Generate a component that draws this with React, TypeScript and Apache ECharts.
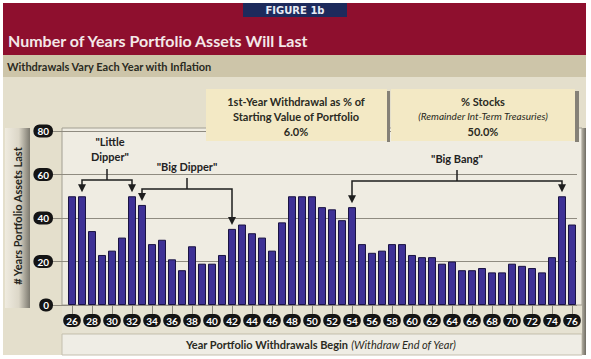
import React, { useEffect, useRef } from 'react';
import * as echarts from 'echarts';

const years = ['26','27','28','29','30','31','32','33','34','35','36','37','38','39','40','41','42','43','44','45','46','47','48','49','50','51','52','53','54','55','56','57','58','59','60','61','62','63','64','65','66','67','68','69','70','71','72','73','74','75','76'];
const yearsAssetsLast = [50,50,34,23,25,31,50,46,28,30,21,16,27,19,19,23,35,37,33,31,25,38,50,50,50,45,44,39,45,28,24,25,28,28,23,22,22,19,20,16,16,17,15,15,19,18,17,15,22,50,37];
const yMin = 0;
const yMax = 80;
const yStep = 20;

const titleText = 'Number of Years Portfolio Assets Will Last';
const subtitleText = 'Withdrawals Vary Each Year with Inflation';
const figureText = 'FIGURE 1b';
const box1Lines = ['1st-Year Withdrawal as % of', 'Starting Value of Portfolio', '6.0%'];
const box2Lines = ['% Stocks', '(Remainder Int-Term Treasuries)', '50.0%'];
const yAxisTitle = '# Years Portfolio Assets Last';
const xAxisTitleMain = 'Year Portfolio Withdrawals Begin ';
const xAxisTitleNote = '(Withdraw End of Year)';

const annotationLabels = [['"Little', 'Dipper"'], ['"Big Dipper"'], ['"Big Bang"']];
const annotationFrom = ['27', '33', '54'];
const annotationTo = ['32', '42', '75'];

const FONT = 'Lato, "Open Sans", sans-serif';

export default function App() {
  const ref = useRef<HTMLDivElement>(null);
  useEffect(() => {
    if (!ref.current) return;
    const chart = echarts.init(ref.current, null, { renderer: 'svg' });
    const pill = {
      color: '#ffffff',
      fontWeight: 'bold' as const,
      fontSize: 10,
      fontFamily: FONT,
      backgroundColor: '#141414',
      borderRadius: 6,
    };
    chart.setOption({
      animation: false,
      backgroundColor: '#ffffff',
      grid: { left: 67, right: 14, top: 131, bottom: 54, containLabel: false },
      xAxis: {
        type: 'category',
        data: years,
        axisLine: { show: false },
        axisTick: { show: true, interval: 1, alignWithLabel: true, length: 9, lineStyle: { color: '#8e8a7e' } },
        axisLabel: { ...pill, interval: 1, margin: 9, padding: [2, 3, 1, 3] },
        splitLine: { show: false },
      },
      yAxis: {
        type: 'value',
        min: yMin,
        max: yMax,
        interval: yStep,
        axisLine: { show: false },
        axisTick: { show: true, length: 14, lineStyle: { color: '#8e8a7e' } },
        axisLabel: { ...pill, margin: 14, padding: [2, 4, 1, 4] },
        splitLine: { show: true, lineStyle: { color: '#8f8b80', width: 1 } },
      },
      series: [
        {
          type: 'bar',
          data: yearsAssetsLast,
          barWidth: 8,
          itemStyle: { color: '#3e3196', borderColor: '#1a1343', borderWidth: 1 },
          z: 3,
        },
      ],
    });

    const px = (cat: string, v: number) =>
      chart.convertToPixel({ gridIndex: 0 }, [years.indexOf(cat), v]) as number[];

    const levels = [57.5, 53.3, 57];
    const ann: any[] = [];
    annotationLabels.forEach((lines, k) => {
      const from = annotationFrom[k];
      const to = annotationTo[k];
      const [x1, yBr] = px(from, levels[k]);
      const [x2] = px(to, levels[k]);
      const top1 = px(from, yearsAssetsLast[years.indexOf(from)])[1] - 4;
      const top2 = px(to, yearsAssetsLast[years.indexOf(to)])[1] - 4;
      const mx = (x1 + x2) / 2;
      const stemTop = yBr - 11;
      const ls = { stroke: '#1e1e1e', lineWidth: 1.5 };
      ann.push({ type: 'polyline', z: 20, shape: { points: [[x1, top1 - 6], [x1, yBr], [x2, yBr], [x2, top2 - 6]] }, style: { ...ls, fill: null } });
      ann.push({ type: 'line', z: 20, shape: { x1: mx, y1: yBr, x2: mx, y2: stemTop }, style: ls });
      [[x1, top1], [x2, top2]].forEach(([ax, ay]) => {
        ann.push({ type: 'polygon', z: 20, shape: { points: [[ax - 4, ay - 8], [ax + 4, ay - 8], [ax, ay]] }, style: { fill: '#1e1e1e' } });
      });
      lines.forEach((t, j) => {
        ann.push({
          type: 'text', z: 20,
          style: {
            text: t, x: mx + (lines.length > 1 ? 3 : 0), y: stemTop - 12 - (lines.length - 1 - j) * 15,
            align: 'center', verticalAlign: 'middle',
            font: `bold 11px ${FONT}`, fill: '#222222',
          },
        });
      });
    });

    const bg: any[] = [
      { type: 'rect', z: -10, shape: { x: 3, y: 3, width: 583, height: 352 }, style: { fill: '#e4dfcc' } },
      { type: 'rect', z: -9, shape: { x: 3, y: 3, width: 583, height: 52 }, style: { fill: '#8e0f2e' } },
      { type: 'rect', z: -9, shape: { x: 3, y: 55, width: 583, height: 22 }, style: { fill: '#cdc5a9' } },
      { type: 'rect', z: -8, shape: { x: 243, y: 3, width: 104, height: 14 }, style: { fill: '#1d2a5c' } },
      { type: 'text', z: 5, style: { text: figureText, x: 295, y: 10, align: 'center', verticalAlign: 'middle', font: `bold 10px "DejaVu Sans", sans-serif`, fill: '#e8ecf5' } },
      { type: 'text', z: 5, style: { text: titleText, x: 8, y: 40, align: 'left', verticalAlign: 'middle', font: `bold 16px ${FONT}`, fill: '#f4e8e8' } },
      { type: 'text', z: 5, style: { text: subtitleText, x: 7, y: 66, align: 'left', verticalAlign: 'middle', font: `bold 11px ${FONT}`, fill: '#2a2a22' } },
      // plot area
      { type: 'rect', z: -7, shape: { x: 62, y: 128, width: 520, height: 177 }, style: { fill: '#efece2', stroke: '#a29e92', lineWidth: 1 } },
      // x label row and bottom title band
      { type: 'rect', z: -7, shape: { x: 62, y: 306, width: 520, height: 27 }, style: { fill: '#e6e2d2' } },
      { type: 'rect', z: -7, shape: { x: 62, y: 334, width: 520, height: 21 }, style: { fill: '#efede5', stroke: '#c4bfaf', lineWidth: 1 } },
      {
        type: 'text', z: 5,
        style: {
          text: `{b|${xAxisTitleMain}}{i|${xAxisTitleNote}}`, x: 321, y: 344, align: 'center', verticalAlign: 'middle',
          rich: {
            b: { fontFamily: FONT, fontWeight: 'bold', fontSize: 11, fill: '#2a2a22', color: '#2a2a22' },
            i: { fontFamily: FONT, fontStyle: 'italic', fontSize: 11, fill: '#2a2a22', color: '#2a2a22' },
          },
        },
      },
      // right shadow
      { type: 'rect', z: -6, shape: { x: 582, y: 128, width: 4, height: 227 }, style: { fill: new echarts.graphic.LinearGradient(0, 0, 1, 0, [{ offset: 0, color: '#b0ac9f' }, { offset: 1, color: '#6f6c63' }]) } },
      // y axis title band
      { type: 'rect', z: -6, shape: { x: 5, y: 128, width: 25, height: 180 }, style: { fill: new echarts.graphic.LinearGradient(0, 0, 1, 0, [{ offset: 0, color: '#efebdf' }, { offset: 0.55, color: '#dcd7c8' }, { offset: 1, color: '#7c796f' }]) } },
      { type: 'text', z: 5, rotation: Math.PI / 2, x: 17, y: 216, style: { text: yAxisTitle, x: 0, y: 0, align: 'center', verticalAlign: 'middle', font: `bold 11px ${FONT}`, fill: '#262620' } },
      // info boxes
      { type: 'rect', z: 4, shape: { x: 206, y: 89, width: 181, height: 52 }, style: { fill: '#f3e9c5' } },
      { type: 'rect', z: 4, shape: { x: 387, y: 91, width: 3, height: 51 }, style: { fill: '#858177' } },
      { type: 'rect', z: 4, shape: { x: 391, y: 89, width: 184, height: 52 }, style: { fill: '#f3e9c5' } },
      { type: 'rect', z: 4, shape: { x: 575, y: 91, width: 4, height: 51 }, style: { fill: '#858177' } },
    ];
    box1Lines.forEach((t, j) => {
      bg.push({ type: 'text', z: 5, style: { text: t, x: 296, y: 101 + j * 15, align: 'center', verticalAlign: 'middle', font: `bold 11px ${FONT}`, fill: '#2a2a22' } });
    });
    box2Lines.forEach((t, j) => {
      bg.push({ type: 'text', z: 5, style: { text: t, x: 483, y: 101 + j * 15, align: 'center', verticalAlign: 'middle', font: j === 1 ? `italic 10px ${FONT}` : `bold 11px ${FONT}`, fill: '#2a2a22' } });
    });

    chart.setOption({ graphic: [...bg, ...ann] });
    return () => chart.dispose();
  }, []);
  return <div ref={ref} style={{ width: 591, height: 359, position: 'absolute', left: 0, top: 0 }} />;
}
